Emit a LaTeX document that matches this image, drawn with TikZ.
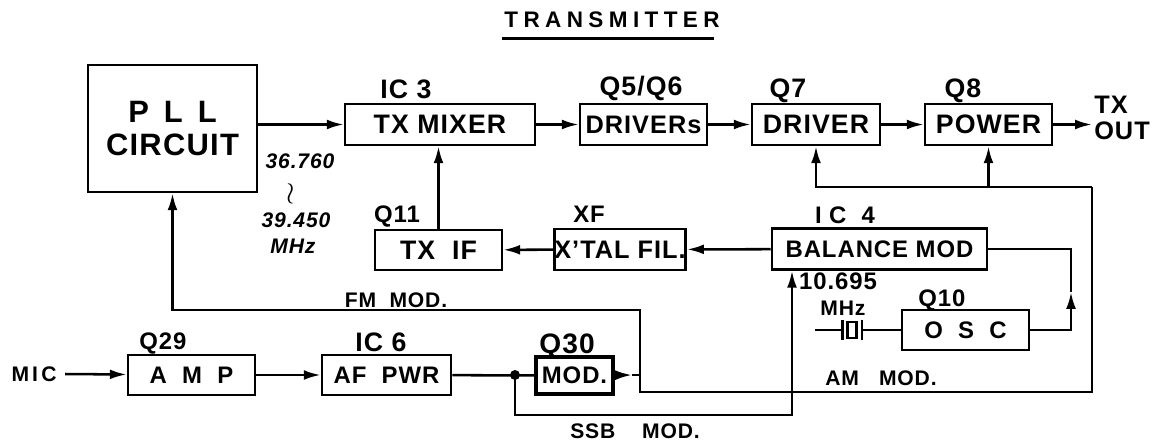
\documentclass[tikz,border=0pt]{standalone}
\usepackage{fontspec}
\setmainfont{Liberation Sans}[LetterSpace=4]
\usetikzlibrary{calc,arrows.meta,positioning}
\newcommand{\pxu}{0.025cm}
\tikzset{
  blk/.style={draw,line width=1.8pt,inner sep=0pt,minimum height={41*\pxu},font=\bfseries\fontsize{19}{21}\selectfont},
  tag/.style={inner sep=0pt,font=\bfseries\fontsize{17}{19}\selectfont},
  note/.style={inner sep=0pt,font=\bfseries\fontsize{15}{17}\selectfont},
  hand/.style={inner sep=0pt,font=\bfseries\itshape\fontsize{15}{17}\selectfont},
  sig/.style={line width=1.8pt},
  sigarr/.style={sig,-{Latex[length=12pt,width=7pt]}},
}

\begin{document}
\begin{tikzpicture}[x=\pxu,y=-\pxu]
\useasboundingbox (0,0) rectangle (1154,442);
% title
\node[tag,font=\bfseries\fontsize{16}{18}\selectfont\addfontfeature{LetterSpace=24}] (title) at (612,20) {TRANSMITTER};
\draw[sig] ($(title.south west)+(-2,10)$) -- ($(title.south east)+(-6,10)$);

% top row
\node[blk,minimum width={169*\pxu},minimum height={127*\pxu},align=center,font=\bfseries\fontsize{22}{24}\selectfont] (pll) at (172.5,128.5) {P\ \,L\ \,L\\CIRCUIT};
\node[blk,minimum width={190*\pxu}] (mixer) at (440,124.5) {TX MIXER\hspace{1.2em}};
\node[blk,minimum width={127*\pxu},font=\bfseries\fontsize{18}{20}\selectfont] (drivers) at (643.5,124.5) {DRIVERs};
\node[blk,minimum width={128*\pxu}] (driver) at (816,124.5) {DRIVER};
\node[blk,minimum width={127*\pxu}] (power) at (988.5,124.5) {POWER};
\node[tag,font=\bfseries\fontsize{19}{21}\selectfont] at (406,89) {IC 3};
\node[tag,font=\bfseries\fontsize{19}{21}\selectfont] at (641,88) {Q5/Q6};
\node[tag,font=\bfseries\fontsize{19}{21}\selectfont] at (788,91) {Q7};
\node[tag,font=\bfseries\fontsize{19}{21}\selectfont] at (963,91) {Q8};
\coordinate (txout) at (1092,124.5);
\node[tag,anchor=west,align=left,font=\bfseries\fontsize{18}{19}\selectfont] (txlbl) at (1094,118) {TX\\OUT};
\node[hand] (f1) at (300,161) {36.760};
\node[hand] (f2) at (291,194) {\scalebox{1.5}{$\wr$}};
\node[hand] (f3) at (296,220) {39.450};
\node[hand] (f4) at (293,246) {MHz};

% middle row
\node[blk,minimum width={127*\pxu},minimum height={40*\pxu}] (txif) at (438.5,250) {TX\ \ IF};
\node[blk,minimum width={126*\pxu},font=\bfseries\fontsize{18}{20}\selectfont] (xtal) at (620,249.5) {X'TAL FIL.};
\node[blk,minimum width={215*\pxu},font=\bfseries\fontsize{17}{19}\selectfont] (bal) at (879.5,249) {BALANCE MOD};
\node[blk,minimum width={127*\pxu},minimum height={40*\pxu},font=\bfseries\fontsize{17}{19}\selectfont] (osc) at (965.5,330) {O\ \ S\ \ C};
\node[tag] at (397,216) {Q11};
\node[tag] at (589,214) {XF};
\node[tag] at (845,215) {I C\ \ 4};
\node[tag] at (942,300) {Q10};
\node[tag] (fmin) at (838,281) {10.695};
\node[note] at (843,308) {MHz};

% crystal
\node[draw,line width=1.8pt,inner sep=0pt,minimum width={9*\pxu},minimum height={16*\pxu}] (qz) at (852,330) {};
\coordinate (qin) at (815,330);
\draw[sig] ($(qz.west)+(-4,-10)$) -- ($(qz.west)+(-4,10)$);
\draw[sig] ($(qz.east)+(4,-10)$) -- ($(qz.east)+(4,10)$);
\draw[sig] (qin) -- ($(qz.west)+(-4,0)$);
\draw[sig] ($(qz.east)+(4,0)$) -- (osc.west);

% bottom row
\node[tag,font=\bfseries\fontsize{15}{17}\selectfont\addfontfeature{LetterSpace=15}] (mic) at (34,374) {MIC};
\node[blk,minimum width={127*\pxu},minimum height={40*\pxu},font=\bfseries\fontsize{17}{19}\selectfont] (amp) at (191.5,375) {A\ \ M\ \ P};
\node[blk,minimum width={129*\pxu},minimum height={40*\pxu},font=\bfseries\fontsize{17}{19}\selectfont] (afpwr) at (386.5,375) {AF\ \ PWR};
\node[blk,line width=2.3pt,minimum width={77*\pxu},minimum height={37*\pxu},font=\bfseries\fontsize{17}{19}\selectfont] (mod) at (574.5,375.5) {MOD.};
\node[tag] at (163,343) {Q29};
\node[tag,font=\bfseries\fontsize{19}{21}\selectfont] at (381,342) {IC 6};
\node[tag,font=\bfseries\fontsize{20}{22}\selectfont] at (567,346) {Q30};
\node[note] at (396,300) {FM\ \ MOD.};
\node[note] at (881,378) {AM\ \ \ MOD.};
\node[note] at (635,431) {SSB\ \ \ \ MOD.};

% routing points
\coordinate (jn) at (515,375);
\coordinate (ssb) at (792,415);
\coordinate (modtip) at (632,375);
\coordinate (split) at (640,375);
\coordinate (fm) at (640,310);
\coordinate (amr) at (1092,392);
\coordinate (fbr) at (1092,187);
\coordinate (oscup) at (1071,292);

% signal flow
\draw[sigarr] (pll.east |- mixer.west) -- (mixer.west);
\draw[sigarr] (mixer) -- (drivers);
\draw[sigarr] (drivers) -- (driver);
\draw[sigarr] (driver) -- (power);
\draw[sigarr] (power) -- (txout);
\draw[sigarr] (bal) -- (xtal);
\draw[sigarr] (xtal) -- (txif);
\draw[sigarr] (txif.north) -- (txif.north |- mixer.south);
\draw[sigarr] (osc.east) -| (oscup);
\draw[sig] (oscup) |- (bal.east);
\draw[sigarr] ([xshift=6pt]mic.east) -- (amp);
\draw[sigarr] (amp) -- (afpwr);
\draw[sig] (afpwr) -- (mod);
\fill (jn) circle (5);
\draw[sigarr] (jn) |- (ssb) -- (ssb |- bal.south);
\draw[sigarr] (mod) -- (modtip);
\draw[sig] (modtip) -- (split);
\draw[sigarr] (split) -- (fm) -| (pll.south);
\draw[sig] (split) |- (amr) -- (fbr);
\draw[sigarr] (fbr) -| (driver.south);
\draw[sigarr] (power.south |- fbr) -- (power.south);
\end{tikzpicture}
\end{document}
